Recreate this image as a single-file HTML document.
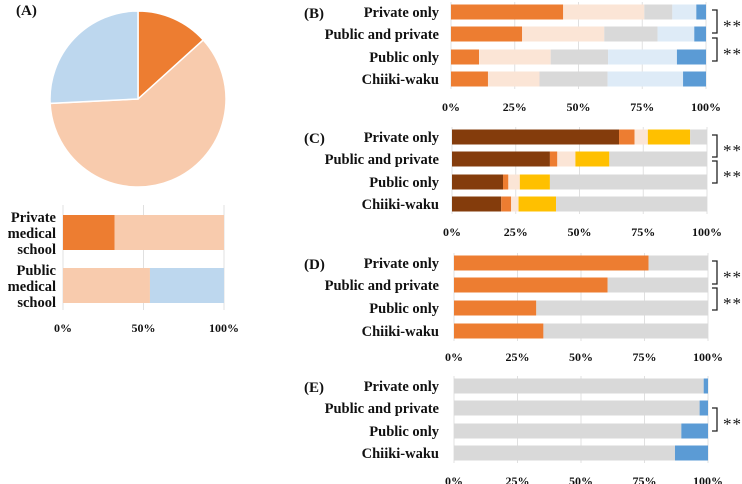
<!DOCTYPE html>
<html><head><meta charset="utf-8"><style>
body{margin:0;background:#fff;}
svg{display:block;font-family:"Liberation Serif",serif;font-weight:bold;}
</style></head><body>
<svg id="chart" width="742" height="484" viewBox="0 0 742 484" xmlns="http://www.w3.org/2000/svg"></svg>
<script>
// Panel A pie
const pieLabels=["Private medical school","Other","Public medical school"];
const pieValues=[13.3,60.9,25.8];
const pieColors=["#ed7d31","#f8cbad","#bdd7ee"];
// Panel A bars
const aCats=["Private medical school","Public medical school"];
const aSeries=[[32,68,0],[0,54,46]];
const aTicks=["0%","50%","100%"];
// Panels B-E
const rowCats=["Private only","Public and private","Public only","Chiiki-waku"];
const bValues=[[44,31.8,11,9.4,3.8],[27.9,32.2,20.9,14.4,4.6],[11,28.1,22.5,27,11.4],[14.5,20.2,26.7,29.6,9]];
const bColors=["#ed7d31","#fbe5d6","#d9d9d9","#deebf7","#5b9bd5"];
const cValues=[[65.5,6.1,5.2,16.6,6.6],[38.4,2.9,7.1,13.3,38.3],[20,2.1,4.5,11.8,61.6],[19.3,3.9,2.9,14.7,59.2]];
const cColors=["#843c0c","#ed7d31","#fbe5d6","#ffc000","#d9d9d9"];
const dValues=[[76.6,23.4],[60.5,39.5],[32.4,67.6],[35.2,64.8]];
const dColors=["#ed7d31","#d9d9d9"];
const eValues=[[98.3,1.7],[96.7,3.3],[89.5,10.5],[87,13]];
const eColors=["#d9d9d9","#5b9bd5"];
const pctTicks=["0%","25%","50%","75%","100%"];

const svg=document.getElementById('chart');
const NS="http://www.w3.org/2000/svg";
function mk(tag,attrs,parent){const e=document.createElementNS(NS,tag);for(const k in attrs)e.setAttribute(k,attrs[k]);(parent||svg).appendChild(e);return e;}
function txt(x,y,s,size,anchor,parent){const t=mk('text',{x:x,y:y,'font-size':size,'text-anchor':anchor||'start',fill:'#111'},parent);t.textContent=s;return t;}

// Pie
const gp=mk('g',{});


const cx=138,cy=99,r=88;let ang=0;
pieValues.forEach((v,i)=>{
  const a0=ang/100*2*Math.PI, a1=(ang+v)/100*2*Math.PI; ang+=v;
  const x0=cx+r*Math.sin(a0),y0=cy-r*Math.cos(a0),x1=cx+r*Math.sin(a1),y1=cy-r*Math.cos(a1);
  const p=mk('path',{d:`M${cx},${cy}L${x0},${y0}A${r},${r} 0 ${v>50?1:0} 1 ${x1},${y1}Z`,fill:pieColors[i],stroke:'#fff','stroke-width':1.5},gp);
  
  
});
const tA=txt(16,15,"(A)",15);



// Panel A bar
(function(){
  const g=mk('g',{});
  
  
  const x0=63,x1=224,xs=v=>x0+(x1-x0)*v/100;
  aTicks.forEach((t,i)=>{const x=x0+(x1-x0)*i/(aTicks.length-1);
    mk('line',{x1:x,x2:x,y1:205,y2:310,stroke:'#e0e0e0'},g);
    const l=txt(x,332,t,12,'middle',g);
    
    });
  const ys=[215,268];
  const lines=[["Private","medical","school"],["Public","medical","school"]];
  aSeries.forEach((row,ri)=>{let acc=0;
    row.forEach((v,si)=>{if(v<=0)return;const rc=mk('rect',{x:xs(acc),y:ys[ri],width:xs(acc+v)-xs(acc),height:35,fill:pieColors[si]},g);
      
      acc+=v;});
    lines[ri].forEach((s,k)=>{const l=txt(56,ys[ri]+7+k*16,s,14.5,'end',g);
      
      });
  });
})();

function panel(label,values,colors,x0,x1,rowY,tickY,brackets){
  const g=mk('g',{});
  
  
  const xs=v=>x0+(x1-x0)*v/100;
  const bh=15;
  pctTicks.forEach((t,i)=>{const x=x0+(x1-x0)*i/(pctTicks.length-1);
    mk('line',{x1:x,x2:x,y1:rowY[0]-10,y2:rowY[3]+10,stroke:'#e0e0e0'},g);
    const l=txt(x,tickY+4,t,12,'middle',g);
    
    });
  values.forEach((row,ri)=>{let acc=0;
    row.forEach((v,si)=>{const rc=mk('rect',{x:xs(acc),y:rowY[ri]-bh/2,width:xs(acc+v)-xs(acc),height:bh,fill:colors[si]},g);
      
      acc+=v;});
    const l=txt(439,rowY[ri]+5,rowCats[ri],14.5,'end',g);
    
    
  });
  const pl=txt(304,rowY[0]+6,"("+label+")",15,'start',g);
  
  
  brackets.forEach(([ya,yb])=>{
    const bx=717;
    const p=mk('path',{d:`M${bx-5},${ya}H${bx}V${yb}H${bx-5}`,fill:'none',stroke:'#222','stroke-width':1.3},g);
    
    
    const s=txt(723,(ya+yb)/2+10,"**",17,'start',g);
    s.setAttribute('font-weight','normal');
    s.setAttribute('letter-spacing','1');
    
    
  });
}
panel("B",bValues,bColors,451,706,[12,34,57,79],107,[[10,33],[38,61]]);
panel("C",cValues,cColors,452,707,[137,159,182,204],232,[[135,157],[161,183]]);
panel("D",dValues,dColors,454,708,[263,285,308,331],357,[[261,284],[288,310]]);
panel("E",eValues,eColors,454,708,[386,408,431,453],481,[[408,431]]);
</script>
</body></html>
